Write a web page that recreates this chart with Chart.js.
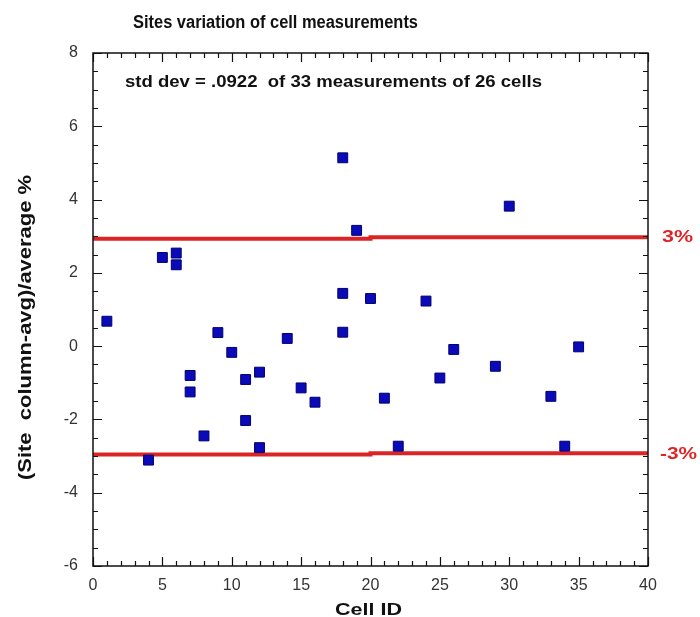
<!DOCTYPE html>
<html>
<head>
<meta charset="utf-8">
<script src="https://cdn.jsdelivr.net/npm/chart.js@4.4.1/dist/chart.umd.min.js"></script>
<style>
  html, body { margin: 0; padding: 0; background: #fff; }
  #wrap { width: 700px; height: 617px; position: relative; }
</style>
</head>
<body>
<div id="wrap"><canvas id="chart"></canvas></div>
<script>
// Measured cells: cell ID and (site column-avg)/average in %
const cellIds = [1, 4, 5, 6, 6, 7, 7, 8, 9, 10, 11, 11, 12, 12, 14, 15, 16, 18, 18, 18, 19, 20, 21, 22, 24, 25, 26, 29, 30, 33, 34, 35];
const variation = [0.68, -3.11, 2.42, 2.54, 2.22, -0.80, -1.25, -2.45, 0.37, -0.17, -0.91, -2.03, -0.71, -2.77, 0.21, -1.14, -1.53, 5.14, 1.44, 0.38, 3.16, 1.30, -1.42, -2.73, 1.23, -0.87, -0.09, -0.55, 3.82, -1.37, -2.73, -0.02];

// +/-3% limit lines (small step at x = 20 as in the original)
const limitX = [0, 20, 20, 40];
const upperLimit = [2.93, 2.93, 2.97, 2.97];
const lowerLimit = [-2.96, -2.96, -2.92, -2.92];

const xTicks = [0, 5, 10, 15, 20, 25, 30, 35, 40];
const yTicks = [-6, -4, -2, 0, 2, 4, 6, 8];

const FONT = '"Liberation Sans", Arial, Helvetica, sans-serif';
const RED = '#dd2424';

const toPoints = (xs, ys) => xs.map((x, i) => ({ x: x, y: ys[i] }));

// draw text squeezed/stretched to a given width
function fitText(ctx, text, x, y, width, font, color) {
  ctx.save();
  ctx.font = font;
  ctx.fillStyle = color;
  ctx.textAlign = 'left';
  ctx.textBaseline = 'alphabetic';
  const w = ctx.measureText(text).width;
  ctx.translate(x, y);
  ctx.scale(width / w, 1);
  ctx.fillText(text, 0, 0);
  ctx.restore();
}

const framePlugin = {
  id: 'frame',
  afterDraw(chart) {
    const { ctx, chartArea: a, scales } = chart;
    const xs = scales.x, ys = scales.y;
    ctx.save();
    ctx.strokeStyle = '#111';
    ctx.lineWidth = 1.5;
    ctx.strokeRect(a.left, a.top, a.right - a.left, a.bottom - a.top);

    // inward ticks on all four sides
    ctx.lineWidth = 1.2;
    ctx.beginPath();
    for (let v = ys.min; v <= ys.max + 1e-9; v += 0.5) {
      const py = Math.round(ys.getPixelForValue(v)) + 0.5;
      const len = (Math.abs(v % 2) < 1e-9) ? 9 : 5;
      ctx.moveTo(a.left, py); ctx.lineTo(a.left + len, py);
      ctx.moveTo(a.right, py); ctx.lineTo(a.right - len, py);
    }
    for (let v = xs.min; v <= xs.max + 1e-9; v += 1) {
      const px = Math.round(xs.getPixelForValue(v)) + 0.5;
      const len = (v % 5 === 0) ? 9 : 5;
      ctx.moveTo(px, a.bottom); ctx.lineTo(px, a.bottom - len);
      ctx.moveTo(px, a.top); ctx.lineTo(px, a.top + len);
    }
    ctx.stroke();
    ctx.restore();

    // texts
    fitText(ctx, 'Sites variation of cell measurements', 133, 27.5, 285, 'bold 18px ' + FONT, '#111');
    fitText(ctx, 'std dev = .0922  of 33 measurements of 26 cells', 125, 86.5, 417, 'bold 16px ' + FONT, '#111');
    fitText(ctx, 'Cell ID', 335, 615, 67, 'bold 17px ' + FONT, '#111');
    fitText(ctx, '3%', 662, 241.5, 31, 'bold 17px ' + FONT, RED);
    fitText(ctx, '-3%', 660, 459, 37, 'bold 17px ' + FONT, RED);

    ctx.save();
    ctx.translate(30.5, 480);
    ctx.rotate(-Math.PI / 2);
    fitText(ctx, '(Site  column-avg)/average %', 0, 0, 305, 'bold 19px ' + FONT, '#111');
    ctx.restore();
  }
};

new Chart(document.getElementById('chart'), {
  type: 'scatter',
  data: {
    datasets: [
      {
        label: 'cells',
        data: toPoints(cellIds, variation),
        pointStyle: 'rect',
        pointRadius: 7,
        pointHoverRadius: 7,
        backgroundColor: '#0a0ab8',
        borderColor: '#000070',
        borderWidth: 1,
        order: 0
      },
      {
        label: '+3%',
        type: 'line',
        data: toPoints(limitX, upperLimit),
        borderColor: RED,
        borderWidth: 4,
        pointRadius: 0,
        fill: false,
        tension: 0,
        order: 1
      },
      {
        label: '-3%',
        type: 'line',
        data: toPoints(limitX, lowerLimit),
        borderColor: RED,
        borderWidth: 4,
        pointRadius: 0,
        fill: false,
        tension: 0,
        order: 1
      }
    ]
  },
  options: {
    responsive: true,
    maintainAspectRatio: false,
    animation: false,
    layout: { padding: { top: 53, right: 52, left: 0, bottom: 0 } },
    plugins: {
      legend: { display: false },
      title: { display: false },
      tooltip: { enabled: false }
    },
    scales: {
      x: {
        type: 'linear',
        min: 0,
        max: 40,
        afterFit(s) { s.height = 51; },
        afterBuildTicks(s) { s.ticks = xTicks.map(v => ({ value: v })); },
        grid: { display: false, drawTicks: false },
        border: { display: false },
        ticks: { padding: 10, color: '#333', font: { family: FONT, size: 16 } }
      },
      y: {
        type: 'linear',
        min: -6,
        max: 8,
        afterFit(s) { s.width = 93; },
        afterBuildTicks(s) { s.ticks = yTicks.map(v => ({ value: v })); },
        grid: { display: false, drawTicks: false },
        border: { display: false },
        ticks: { padding: 15, color: '#333', font: { family: FONT, size: 16 } }
      }
    }
  },
  plugins: [framePlugin]
});
</script>
</body>
</html>
